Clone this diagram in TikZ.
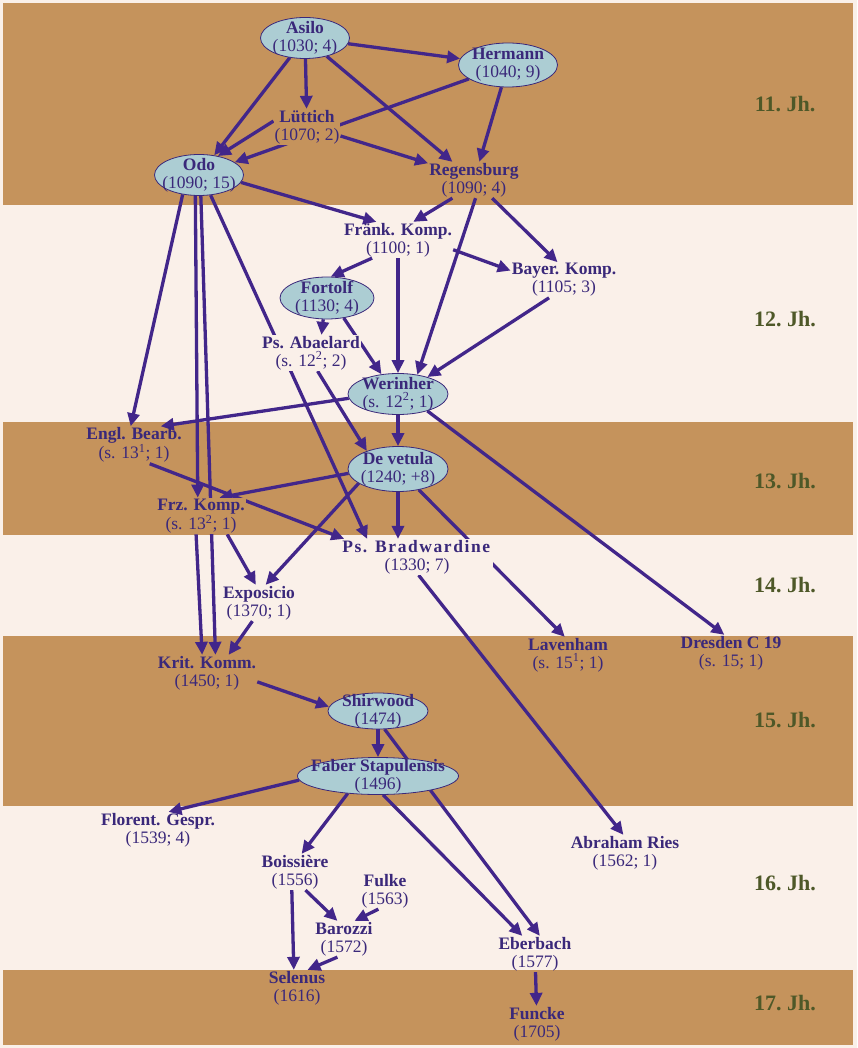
\documentclass[tikz,border=0pt]{standalone}
\usepackage{fontspec}
\setmainfont{Liberation Serif}
\usetikzlibrary{shapes.geometric,arrows.meta}

\definecolor{bandbrown}{RGB}{197,147,92}
\definecolor{bandwhite}{RGB}{250,240,233}
\definecolor{ellfill}{RGB}{172,205,211}
\definecolor{inkcol}{RGB}{58,40,122}
\definecolor{arrowcol}{RGB}{66,38,138}
\definecolor{jhcol}{RGB}{78,88,40}

\pgfdeclarelayer{bands}
\pgfdeclarelayer{edges}
\pgfsetlayers{bands,edges,main}

\newcommand{\wk}[2]{\textbf{#1}\\#2}

\tikzset{
  txt/.style={align=center, text=inkcol, font=\fontsize{17.5}{18}\selectfont, inner sep=1pt},
  ell/.style={txt, ellipse, draw=inkcol, line width=0.8pt, fill=ellfill, inner sep=-40pt},
  link/.style={draw=arrowcol, line width=3.3pt, -{Triangle[length=13pt,width=12pt]}},
  century/.style={text=jhcol, font=\fontsize{22}{24}\selectfont\bfseries}
}

\begin{document}
\begin{tikzpicture}[x=1pt,y=-1pt]
	\useasboundingbox (0,0) rectangle (857,1048);

	% bands of the centuries
	\begin{pgfonlayer}{bands}
	\fill[bandwhite] (0,0) rectangle (857,1048);
	\fill[bandbrown] (3,3) rectangle (853,205);
	\fill[bandbrown] (3,422) rectangle (853,535);
	\fill[bandbrown] (3,636) rectangle (853,806);
	\fill[bandbrown] (3,970) rectangle (853,1045);
	\end{pgfonlayer}

	\foreach \c/\y in {11/104,12/319,13/481,14/585,15/720,16/883,17/1003}
		\node[century] (jh\c) at (785,\y) {\c.~Jh.};

	% works
	\node[ell, minimum width=89pt, minimum height=41pt] (asilo) at (305,38) {\wk{Asilo}{(1030; 4)}};
	\node[ell, minimum width=99pt, minimum height=44pt] (hermann) at (508,65) {\wk{Hermann}{(1040; 9)}};
	\node[txt, fill=bandbrown] (luettich) at (307,127) {\wk{Lüttich}{(1070; 2)}};
	\node[ell, minimum width=89pt, minimum height=41pt] (odo) at (199,175) {\wk{Odo}{(1090; 15)}};
	\node[txt] (regensburg) at (474,180) {\wk{Regensburg}{(1090; 4)}};
	\node[txt] (fraenk) at (398,240) {\wk{Fränk. Komp.}{(1100; 1)}};
	\node[txt] (bayer) at (564,280) {\wk{Bayer. Komp.}{(1105; 3)}};
	\node[ell, minimum width=94pt, minimum height=42pt] (fortolf) at (327,298) {\wk{Fortolf}{(1130; 4)}};
	\node[txt, fill=bandwhite] (abaelard) at (311,353) {\wk{Ps. Abaelard}{(s. 12\textsuperscript{2}; 2)}};
	\node[ell, minimum width=100pt, minimum height=41pt] (werinher) at (398,394) {\wk{Werinher}{(s. 12\textsuperscript{2}; 1)}};
	\node[txt] (engl) at (134,445) {\wk{Engl. Bearb.}{(s. 13\textsuperscript{1}; 1)}};
	\node[ell, minimum width=100pt, minimum height=45pt] (devetula) at (398,469) {\wk{De vetula}{(1240; +8)}};
	\node[txt, fill=bandbrown] (frz) at (201,516) {\wk{Frz. Komp.}{(s. 13\textsuperscript{2}; 1)}};
	\node[txt, fill=bandwhite] (bradwardine) at (417,557) {\textbf{\addfontfeature{LetterSpace=9}Ps. Bradwardine}\\(1330; 7)};
	\node[txt] (exposicio) at (259,603) {\wk{Exposicio}{(1370; 1)}};
	\node[txt] (lavenham) at (568,655) {\wk{Lavenham}{(s. 15\textsuperscript{1}; 1)}};
	\node[txt] (dresden) at (731,653) {\wk{Dresden C 19}{(s. 15; 1)}};
	\node[txt] (kritkomm) at (207,673) {\wk{Krit. Komm.}{(1450; 1)}};
	\node[ell, minimum width=100pt, minimum height=36pt] (shirwood) at (378,711) {\wk{Shirwood}{(1474)}};
	\node[ell, minimum width=161pt, minimum height=37pt] (faber) at (378,776) {\wk{Faber Stapulensis}{(1496)}};
	\node[txt] (florent) at (158,830) {\wk{Florent. Gespr.}{(1539; 4)}};
	\node[txt] (ries) at (625,853) {\wk{Abraham Ries}{(1562; 1)}};
	\node[txt] (boissiere) at (295,872) {\wk{Boissière}{(1556)}};
	\node[txt] (fulke) at (385,891) {\wk{Fulke}{(1563)}};
	\node[txt] (barozzi) at (344,939) {\wk{Barozzi}{(1572)}};
	\node[txt] (eberbach) at (535,954) {\wk{Eberbach}{(1577)}};
	\node[txt] (selenus) at (297,988) {\wk{Selenus}{(1616)}};
	\node[txt] (funcke) at (537,1024) {\wk{Funcke}{(1705)}};

	% dependencies
	\begin{pgfonlayer}{edges}
	\draw[link] (asilo) -- (hermann);
	\draw[link] (asilo) -- (luettich);
	\draw[link] (asilo) -- (odo);
	\draw[link] (asilo) -- (regensburg);
	\draw[link] (hermann) -- (odo);
	\draw[link] (hermann) -- (regensburg);
	\draw[link] (luettich.170) -- (odo.45);
	\draw[link] (luettich.-15) -- (regensburg.160);
	\draw[link] (odo.-10) -- (fraenk.140);
	\draw[link] (odo.-130) -- (engl.100);
	\draw[link] (odo.-100) -- (frz.100);
	\draw[link] (odo.-85) -- (kritkomm.65);
	\draw[link] (odo.-60) -- (bradwardine.160);
	\draw[link] (regensburg.-140) -- (fraenk.50);
	\draw[link] (regensburg.-45) -- (bayer.110);
	\draw[link] (regensburg.-85) -- (werinher.45);
	\draw[link] (fraenk.-145) -- (fortolf.80);
	\draw[link] (fraenk) -- (werinher);
	\draw[link] (fraenk.-10) -- (bayer.170);
	\draw[link] (bayer.-130) -- (werinher.30);
	\draw[link] (fortolf.-100) -- (abaelard.60);
	\draw[link] (fortolf.-50) -- (werinher.130);
	\draw[link] (abaelard.-70) -- (devetula.150);
	\draw[link] (werinher.185) -- (engl.35);
	\draw[link] (werinher) -- (devetula);
	\draw[link] (werinher.-30) -- (dresden.110);
	\draw[link] (devetula.185) -- (frz.45);
	\draw[link] (devetula.-160) -- (exposicio.70);
	\draw[link] (devetula.south) -- (devetula.south |- bradwardine.north);
	\draw[link] (devetula.-45) -- (lavenham.100);
	\draw[link] (engl.-50) -- (bradwardine.166);
	\draw[link] (frz.-105) -- (kritkomm.105);
	\draw[link] (frz.-35) -- (exposicio.100);
	\draw[link] (exposicio.-110) -- (kritkomm.40);
	\draw[link] (bradwardine.-85) -- (ries.95);
	\draw[link] (kritkomm.-10) -- (shirwood.175);
	\draw[link] (shirwood) -- (faber);
	\draw[link] (shirwood.-70) -- (eberbach.75);
	\draw[link] (faber.183) -- (florent.60);
	\draw[link] (faber.-150) -- (boissiere.70);
	\draw[link] (faber.-75) -- (eberbach.125);
	\draw[link] (boissiere.-60) -- (barozzi.110);
	\draw[link] (boissiere.-100) -- (selenus.100);
	\draw[link] (fulke.-110) -- (barozzi.60);
	\draw[link] (barozzi.-110) -- (selenus.60);
	\draw[link] (eberbach) -- (funcke);
	\end{pgfonlayer}
\end{tikzpicture}
\end{document}
